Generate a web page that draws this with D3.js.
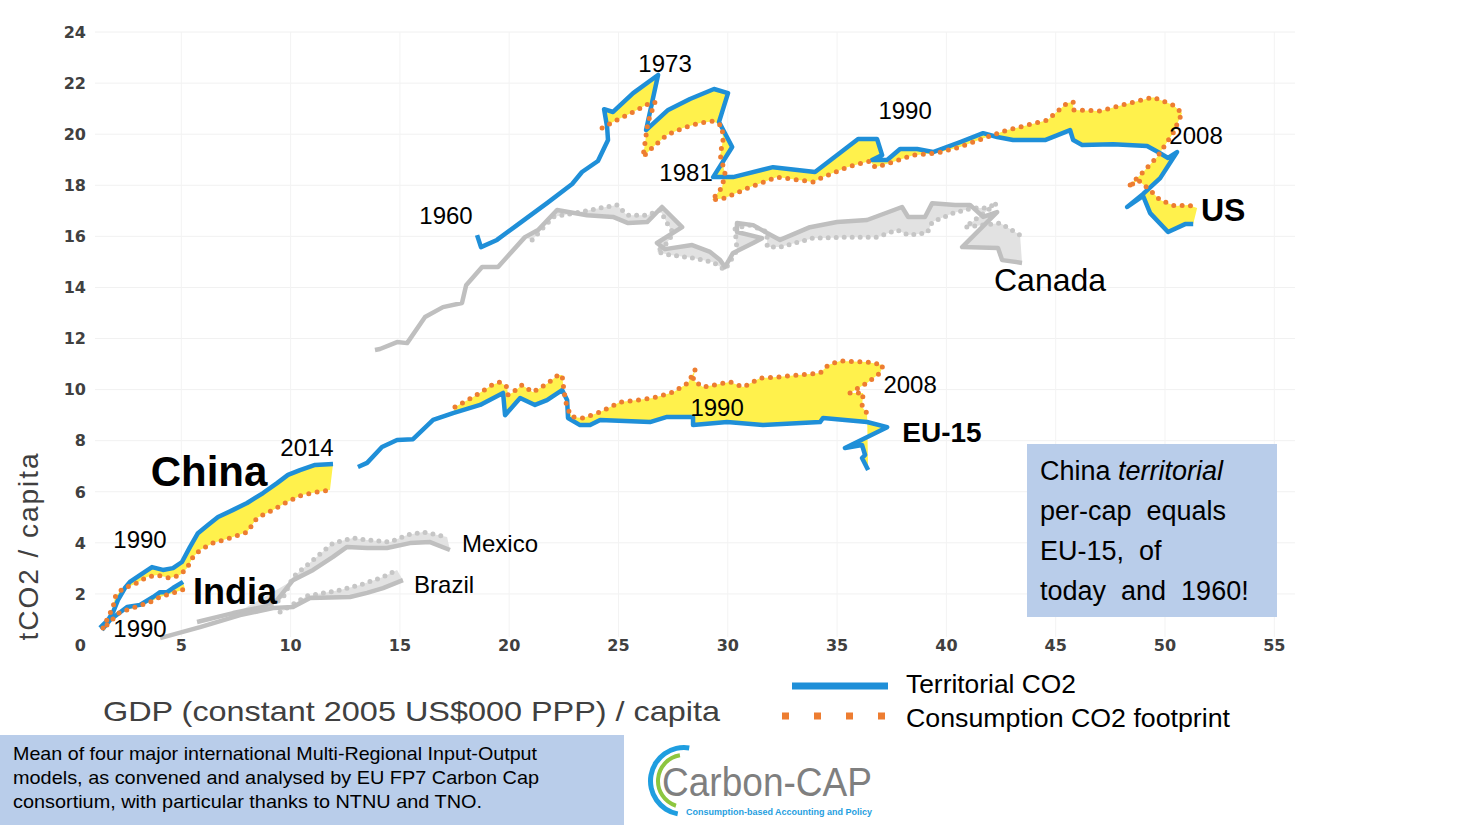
<!DOCTYPE html>
<html>
<head>
<meta charset="utf-8">
<script src="https://cdn.jsdelivr.net/npm/d3@7"></script>
<style>
  body { margin: 0; background: #fff; }
  svg { display: block; font-family: "Liberation Sans", Arial, sans-serif; }
</style>
</head>
<body>
<svg id="chart" width="1481" height="825"></svg>
<script>
// axis ticks
var xTicks = [5, 10, 15, 20, 25, 30, 35, 40, 45, 50, 55];
var yTicks = [0, 2, 4, 6, 8, 10, 12, 14, 16, 18, 20, 22, 24];

// [GDP per capita (k$), tCO2 per capita]
var usTerr = [[18.53,16.05],[18.71,15.58],[19.44,15.86],[20.36,16.44],[21.73,17.30],[22.88,18.05],[23.33,18.52],
  [24.06,18.95],[24.52,19.77],[24.48,20.28],[24.34,20.98],[24.75,20.87],[25.67,21.61],[26.81,22.32],[26.26,20.16],
  [27.27,20.95],[28.27,21.38],[29.37,21.77],[30.01,21.61],[29.60,20.48],[30.20,19.50],[29.33,18.32],[30.24,18.32],
  [32.07,18.71],[33.99,18.52],[35.96,19.81],[36.83,19.81],[37.06,19.18],[36.60,18.99],[37.29,18.99],[37.88,19.42],
  [38.66,19.42],[39.39,19.30],[40.63,19.69],[41.68,20.04],[42.32,19.89],[43.05,19.77],[44.51,19.77],[45.66,20.16],
  [45.80,19.77],[46.21,19.58],[47.63,19.61],[49.18,19.54],[49.68,19.30],[50.14,19.07],[50.55,19.30],[49.78,18.28],
  [49.00,17.66],[48.27,17.15],[49.00,17.58],[49.32,16.91],[50.14,16.17],[50.92,16.48],[51.29,16.48]];
var usCons = [[24.25,20.24],[24.75,20.48],[25.67,20.87],[26.35,21.18],[26.67,21.26],[26.35,20.48],[26.12,19.11],
  [26.58,19.50],[27.22,19.97],[27.95,20.24],[28.73,20.44],[29.33,20.51],[29.74,20.32],[29.78,19.77],[29.65,19.18],
  [29.87,18.48],[29.74,17.93],[29.28,17.42],[29.87,17.50],[31.02,17.93],[32.25,18.32],[33.90,18.13],[34.36,18.32],
  [35.46,18.71],[36.51,18.95],[36.74,18.71],[37.42,18.87],[38.48,19.18],[39.57,19.26],[40.63,19.50],[41.86,19.89],
  [42.78,20.16],[44.61,20.55],[45.52,21.22],[45.80,21.26],[45.80,20.95],[47.03,20.91],[48.40,21.22],[49.46,21.45],
  [50.37,21.14],[50.78,20.83],[50.37,20.04],[49.64,19.11],[49.00,18.52],[48.31,17.93],[48.77,18.20],[49.32,17.81],
  [49.78,17.42],[50.46,17.19],[51.06,17.23],[51.47,17.11]];

var canTerr = [[13.86,11.55],[14.09,11.59],[14.87,11.86],[15.33,11.82],[16.15,12.84],[16.97,13.23],[17.84,13.39],
  [18.03,14.09],[18.76,14.80],[19.49,14.80],[20.72,15.97],[21.32,16.25],[22.19,17.03],[23.56,16.83],[24.75,16.76],
  [25.44,16.52],[26.31,16.56],[26.99,17.15],[27.91,16.36],[26.76,15.74],[27.13,15.50],[28.37,15.66],[29.19,15.39],
  [29.65,15.07],[29.87,14.80],[30.24,15.35],[31.16,15.74],[31.57,15.93],[30.42,16.17],[30.42,16.52],[31.16,16.44],
  [31.80,16.13],[32.39,15.86],[33.76,16.36],[35.00,16.56],[36.37,16.64],[37.97,17.15],[38.25,16.76],[39.02,16.76],
  [39.35,17.30],[40.40,17.23],[41.08,17.23],[41.68,16.76],[42.32,16.95],[40.72,15.58],[42.36,15.54],[42.55,15.07],
  [43.46,14.96]];
var canCons = [[21.05,15.86],[22.01,16.76],[23.24,16.95],[24.16,17.11],[24.93,17.23],[25.39,16.83],[26.31,16.83],
  [26.90,17.03],[27.22,16.52],[27.50,16.13],[27.22,15.74],[26.76,15.39],[27.36,15.27],[28.41,15.15],[29.33,14.99],
  [29.87,14.68],[30.42,15.46],[30.33,16.33],[31.02,16.44],[31.80,16.17],[31.80,15.58],[32.39,15.58],[33.90,15.93],
  [35.46,15.97],[36.83,15.97],[37.74,16.25],[38.25,16.05],[39.12,16.13],[39.35,16.56],[40.31,16.91],[41.22,17.11],
  [41.86,17.11],[42.32,17.30],[40.85,16.36],[42.46,16.52],[43.37,16.05]];

var euTerr = [[13.08,6.97],[13.50,7.13],[14.18,7.75],[14.87,8.03],[15.60,8.06],[16.52,8.81],[17.43,9.08],
  [18.67,9.40],[19.72,9.87],[19.81,9.00],[20.50,9.67],[21.18,9.40],[21.73,9.59],[22.42,9.98],[22.65,9.59],
  [22.69,8.89],[23.24,8.61],[23.70,8.61],[24.16,8.81],[26.44,8.73],[27.22,8.93],[28.41,8.93],[28.41,8.61],
  [29.97,8.73],[31.61,8.61],[34.22,8.73],[34.36,8.89],[36.37,8.73],[37.29,8.53],[35.36,7.71],[36.14,7.83],
  [36.28,7.44],[36.14,7.32],[36.42,6.85]];
var euCons = [[17.52,9.32],[18.35,9.71],[19.22,10.18],[19.58,10.30],[19.90,10.10],[19.95,9.79],[20.18,9.90],
  [20.59,10.18],[21.09,9.90],[21.78,10.26],[22.23,10.57],[22.42,10.57],[22.46,10.26],[22.55,9.71],[22.65,9.28],
  [22.88,8.93],[23.38,8.89],[24.16,9.12],[25.07,9.51],[25.85,9.59],[26.58,9.67],[27.50,9.90],[28.18,10.26],
  [28.50,10.77],[28.41,10.37],[28.87,10.10],[30.10,10.30],[30.70,10.10],[31.48,10.45],[32.25,10.49],[34.22,10.65],
  [34.59,10.96],[35.14,11.12],[36.37,11.08],[37.10,10.96],[36.97,10.65],[36.37,10.26],[35.59,9.87],[36.19,9.87],
  [36.14,9.32],[36.37,9.08]];

var chinaTerr = [[1.28,0.67],[1.65,0.98],[1.88,1.29],[2.10,1.76],[2.42,2.23],[2.65,2.47],[3.11,2.74],[3.66,3.05],
  [4.16,2.94],[4.62,3.01],[5.03,3.25],[5.40,3.84],[5.76,4.38],[6.22,4.70],[6.68,5.01],[7.37,5.29],[8.01,5.56],
  [8.74,5.95],[9.38,6.34],[9.88,6.66],[10.43,6.85],[11.12,7.05],[11.94,7.09]];
var chinaCons = [[1.42,0.67],[1.88,1.49],[1.97,1.88],[2.33,2.23],[2.79,2.35],[3.43,2.66],[3.89,2.74],[4.48,2.62],
  [4.94,2.74],[5.26,3.01],[5.54,3.45],[5.86,3.72],[6.45,3.99],[7.23,4.19],[8.01,4.42],[8.46,4.97],[9.20,5.29],
  [9.84,5.60],[10.52,5.87],[11.21,5.99],[11.80,6.07]];

var indiaTerr = [[1.37,0.59],[1.74,0.98],[2.52,1.49],[3.11,1.57],[3.71,1.88],[4.03,2.07],[4.35,2.07],[4.62,2.23],[5.08,2.47]];
var indiaCons = [[1.60,0.78],[2.20,1.29],[2.79,1.45],[3.57,1.68],[4.03,1.88],[4.62,2.04],[5.17,2.19]];

var mexTerr = [[5.72,0.90],[7.37,1.25],[8.74,1.49],[9.38,1.76],[10.11,2.54],[11.03,2.94],[11.94,3.45],[12.58,3.84],
  [13.50,3.80],[14.41,3.80],[15.46,3.99],[16.38,4.03],[17.29,3.72]];
var mexCons = [[7.37,1.17],[8.74,1.37],[9.65,1.84],[10.11,2.66],[11.03,3.33],[11.94,3.99],[12.86,4.19],[13.50,4.11],
  [14.55,4.03],[15.33,4.31],[16.06,4.42],[17.16,4.23]];

var braTerr = [[4.03,0.27],[5.86,0.70],[7.69,1.17],[9.20,1.45],[10.11,1.49],[10.89,1.84],[12.72,1.88],[13.50,2.04],
  [14.23,2.23],[15.14,2.54]];
var braCons = [[9.52,1.29],[10.75,1.92],[12.26,2.15],[13.18,2.35],[14.23,2.66],[14.87,2.94]];

var blue = "#1f8fd8", orange = "#ed7d31", yellow = "#fff14c";
var grey = "#bfbfbf", greyFill = "#e2e2e2", boxBlue = "#b9cdea";

var svg = d3.select("#chart");

var x = d3.scaleLinear().domain([0, 55]).range([72, 72 + 55 * 21.86]);
var y = d3.scaleLinear().domain([0, 24]).range([645, 645 - 24 * 25.54]);

var line = d3.line().x(function(d) { return x(d[0]); }).y(function(d) { return y(d[1]); });

// grid
svg.append("g").selectAll("line").data(yTicks.slice(1)).enter().append("line")
  .attr("x1", 95).attr("x2", 1295)
  .attr("y1", function(d) { return y(d); }).attr("y2", function(d) { return y(d); })
  .attr("stroke", "#f1f1f1").attr("stroke-width", 1);
svg.append("g").selectAll("line").data(xTicks).enter().append("line")
  .attr("x1", function(d) { return x(d); }).attr("x2", function(d) { return x(d); })
  .attr("y1", y(24)).attr("y2", y(0) - 8)
  .attr("stroke", "#f3f3f3").attr("stroke-width", 1);

// tick labels
svg.append("g").selectAll("text").data(yTicks).enter().append("text")
  .attr("x", 86).attr("y", function(d) { return y(d); })
  .attr("dy", "0.36em").attr("text-anchor", "end")
  .style("font-family", "'DejaVu Sans', sans-serif").style("font-weight", "bold")
  .style("font-size", "16px").attr("fill", "#404040")
  .text(function(d) { return d; });
svg.append("g").selectAll("text").data(xTicks).enter().append("text")
  .attr("x", function(d) { return x(d); }).attr("y", y(0))
  .attr("dy", "0.36em").attr("text-anchor", "middle")
  .style("font-family", "'DejaVu Sans', sans-serif").style("font-weight", "bold")
  .style("font-size", "16px").attr("fill", "#404040")
  .text(function(d) { return d; });

function band(terr, from, cons) {
  return line(terr.slice(from).concat(cons.slice().reverse())) + "Z";
}

// grey countries (Canada, Mexico, Brazil)
var greys = [[canTerr, 10, canCons], [mexTerr, 4, mexCons], [braTerr, 4, braCons]];
greys.forEach(function(g) {
  svg.append("path").attr("d", band(g[0], g[1], g[2])).attr("fill", greyFill).attr("stroke", "none");
});
greys.forEach(function(g) {
  svg.append("path").attr("d", line(g[2])).attr("fill", "none").attr("stroke", "#c6c6c6")
    .attr("stroke-width", 5).attr("stroke-linecap", "round").attr("stroke-dasharray", "0 8");
  svg.append("path").attr("d", line(g[0])).attr("fill", "none").attr("stroke", grey)
    .attr("stroke-width", 4.5).attr("stroke-linejoin", "round");
});

// yellow gaps between territorial and consumption
var pairs = [[usTerr, 9, usCons], [euTerr, 6, euCons], [chinaTerr, 5, chinaCons], [indiaTerr, 2, indiaCons]];
pairs.forEach(function(p) {
  svg.append("path").attr("d", band(p[0], p[1], p[2])).attr("fill", yellow).attr("stroke", "none");
});
pairs.forEach(function(p) {
  svg.append("path").attr("d", line(p[0])).attr("fill", "none").attr("stroke", blue)
    .attr("stroke-width", 4.5).attr("stroke-linejoin", "round");
});
pairs.forEach(function(p) {
  svg.append("path").attr("d", line(p[2])).attr("fill", "none").attr("stroke", orange)
    .attr("stroke-width", 5).attr("stroke-linecap", "round").attr("stroke-dasharray", "0 8.5");
});

// annotations
var notes = [
  ["1973", 27.13, 22.79, 24, "normal"], ["1960", 17.11, 16.83, 24, "normal"], ["1981", 28.09, 18.52, 24, "normal"],
  ["1990", 38.11, 20.95, 24, "normal"], ["2008", 51.42, 19.97, 24, "normal"], ["US", 52.66, 17.07, 32, "bold"],
  ["Canada", 44.74, 14.33, 32, "normal"], ["2008", 38.34, 10.22, 24, "normal"], ["1990", 29.51, 9.32, 24, "normal"],
  ["EU-15", 39.80, 8.34, 28, "bold"], ["2014", 10.75, 7.75, 24, "normal"], ["China", 6.27, 6.81, 42, "bold"],
  ["1990", 3.11, 4.15, 24, "normal"], ["India", 7.46, 2.11, 36, "bold"], ["1990", 3.11, 0.67, 24, "normal"],
  ["Mexico", 19.58, 3.99, 24, "normal"], ["Brazil", 17.02, 2.39, 24, "normal"]
];
svg.append("g").selectAll("text").data(notes).enter().append("text")
  .attr("x", function(d) { return x(d[1]); }).attr("y", function(d) { return y(d[2]); })
  .attr("dy", "0.36em").attr("text-anchor", "middle")
  .style("font-size", function(d) { return d[3] + "px"; })
  .style("font-weight", function(d) { return d[4]; })
  .attr("fill", "#000")
  .text(function(d) { return d[0]; });

// axis titles
svg.append("text").attr("transform", "translate(38,547) rotate(-90)")
  .attr("text-anchor", "middle").style("font-size", "28px").attr("fill", "#404040")
  .attr("textLength", 187).attr("lengthAdjust", "spacing")
  .text("tCO2 / capita");
svg.append("text").attr("x", 103).attr("y", 721)
  .style("font-size", "28px").attr("fill", "#404040")
  .attr("textLength", 617).attr("lengthAdjust", "spacingAndGlyphs")
  .text("GDP (constant  2005 US$000 PPP) / capita");

// legend
svg.append("line").attr("x1", 792).attr("x2", 888).attr("y1", 686).attr("y2", 686)
  .attr("stroke", blue).attr("stroke-width", 7);
svg.append("line").attr("x1", 782).attr("x2", 890).attr("y1", 716).attr("y2", 716)
  .attr("stroke", orange).attr("stroke-width", 7).attr("stroke-dasharray", "7 25");
svg.append("text").attr("x", 906).attr("y", 693).style("font-size", "25px")
  .attr("textLength", 170).attr("lengthAdjust", "spacingAndGlyphs").text("Territorial CO2");
svg.append("text").attr("x", 906).attr("y", 727).style("font-size", "25px")
  .attr("textLength", 324).attr("lengthAdjust", "spacingAndGlyphs").text("Consumption  CO2 footprint");

// side box
svg.append("rect").attr("x", 1027).attr("y", 444).attr("width", 250).attr("height", 173).attr("fill", boxBlue);
var boxLines = ["per-cap  equals", "EU-15,  of", "today  and  1960!"];
var t0 = svg.append("text").attr("x", 1040).attr("y", 480).style("font-size", "27px");
t0.append("tspan").text("China ");
t0.append("tspan").style("font-style", "italic").text("territorial");
svg.append("g").selectAll("text").data(boxLines).enter().append("text")
  .attr("x", 1040).attr("y", function(d, i) { return 520 + i * 40; })
  .style("font-size", "27px").style("white-space", "pre").attr("xml:space", "preserve")
  .text(function(d) { return d; });

// source note
svg.append("rect").attr("x", 0).attr("y", 735).attr("width", 624).attr("height", 90).attr("fill", boxBlue);
var source = [["Mean of four major international Multi-Regional Input-Output", 524],
  ["models, as convened and analysed by EU FP7 Carbon Cap", 526],
  ["consortium, with particular thanks to NTNU and TNO.", 469]];
svg.append("g").selectAll("text").data(source).enter().append("text")
  .attr("x", 13).attr("y", function(d, i) { return 760 + i * 24; })
  .style("font-size", "19px").attr("textLength", function(d) { return d[1]; })
  .attr("lengthAdjust", "spacingAndGlyphs")
  .text(function(d) { return d[0]; });

// logo
var logo = svg.append("g").attr("transform", "translate(684,781)");
logo.append("path").attr("d", d3.arc().innerRadius(31).outerRadius(36)
  .startAngle(Math.PI * 1.06).endAngle(Math.PI * 2.05)()).attr("fill", "#1f9ee0");
logo.append("path").attr("d", d3.arc().innerRadius(24).outerRadius(28)
  .startAngle(Math.PI * 1.1).endAngle(Math.PI * 1.95)()).attr("fill", "#8dc63f");
svg.append("text").attr("x", 662).attr("y", 796).style("font-size", "40px").attr("fill", "#7f7f7f")
  .attr("textLength", 210).attr("lengthAdjust", "spacingAndGlyphs").text("Carbon-CAP");
svg.append("text").attr("x", 686).attr("y", 815).style("font-size", "9px").style("font-weight", "bold")
  .attr("fill", "#1f9ee0").attr("textLength", 186).attr("lengthAdjust", "spacingAndGlyphs")
  .text("Consumption-based Accounting and Policy");
</script>
</body>
</html>
